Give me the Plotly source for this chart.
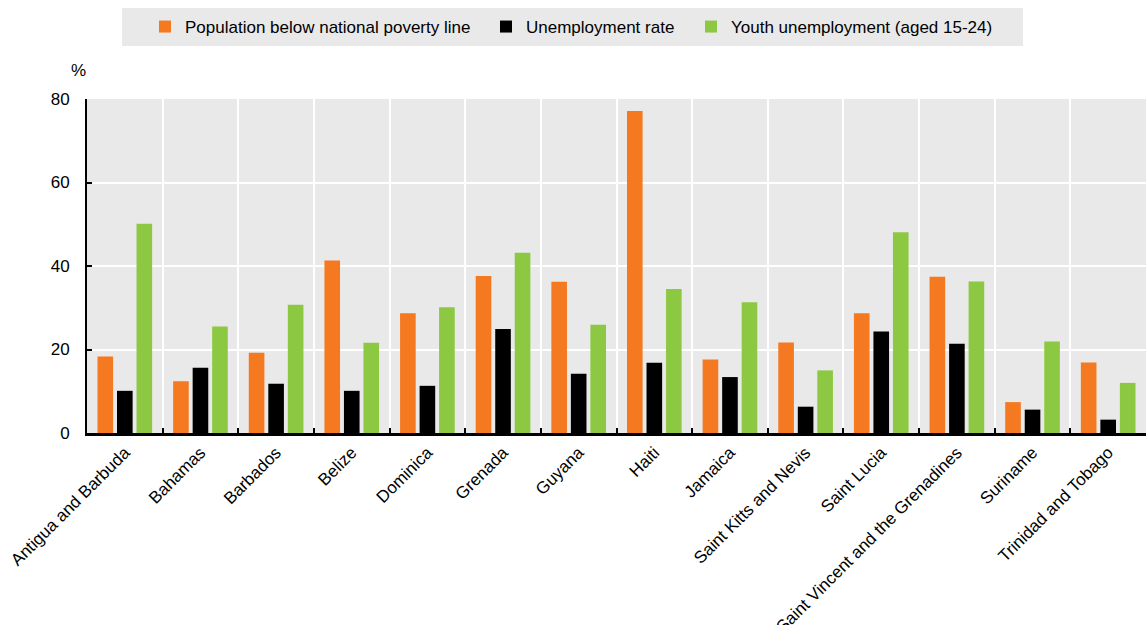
import plotly.graph_objects as go

countries = ["Antigua and Barbuda", "Bahamas", "Barbados", "Belize", "Dominica", "Grenada",
             "Guyana", "Haiti", "Jamaica", "Saint Kitts and Nevis", "Saint Lucia",
             "Saint Vincent and the Grenadines", "Suriname", "Trinidad and Tobago"]
poverty = [18.3, 12.4, 19.2, 41.3, 28.7, 37.6, 36.2, 77.1, 17.6, 21.7, 28.7, 37.4, 7.4, 16.9]
unemployment = [10.1, 15.6, 11.8, 10.1, 11.3, 24.9, 14.2, 16.8, 13.4, 6.3, 24.3, 21.4, 5.6, 3.2]
youth = [50.1, 25.5, 30.7, 21.6, 30.1, 43.2, 25.9, 34.5, 31.3, 15.0, 48.1, 36.3, 21.9, 12.0]

names = ["Population below national poverty line", "Unemployment rate", "Youth unemployment (aged 15-24)"]
colors = ["#f47920", "#000000", "#8cc841"]
series = [poverty, unemployment, youth]
legends = ["legend", "legend2", "legend3"]

FONT = "Liberation Sans, Arial, sans-serif"

fig = go.Figure()
for name, col, vals, lg in zip(names, colors, series, legends):
    fig.add_trace(go.Bar(x=countries, y=vals, name=name, marker=dict(color=col, line=dict(width=0)),
                         legend=lg, showlegend=True))

W, H = 1146, 625
L, R, T, B = 87, 0, 99, 192
pw, ph = W - L - R, H - T - B

def px(x):
    return (x - L) / pw

def py(y):
    return (H - B - y) / ph

legend_common = dict(orientation="h", yanchor="middle", y=py(27), xanchor="left",
                     bgcolor="rgba(0,0,0,0)", font=dict(family=FONT, size=17, color="#000"),
                     itemwidth=30, visible=True)

fig.update_layout(
    width=W, height=H,
    margin=dict(l=L, r=R, t=T, b=B, autoexpand=False),
    paper_bgcolor="white",
    plot_bgcolor="#e9e9e9",
    showlegend=True,
    barmode="group",
    bargap=0.226,
    bargroupgap=0.2,
    font=dict(family=FONT, size=17, color="#000"),
    legend=dict(legend_common, x=px(145)),
    legend2=dict(legend_common, x=px(486)),
    legend3=dict(legend_common, x=px(691)),
    shapes=[dict(type="rect", xref="paper", yref="paper", x0=px(122), x1=px(1023),
                 y0=py(46), y1=py(8), fillcolor="#e9e9e9", line=dict(width=0), layer="below")],
    annotations=[dict(text="%", xref="paper", yref="paper", x=px(78), y=py(70),
                      xanchor="center", yanchor="middle",
                      showarrow=False, font=dict(family=FONT, size=17, color="#000"))],
    xaxis=dict(
        tickson="boundaries", showgrid=True, gridcolor="white", gridwidth=2,
        ticks="inside", ticklen=5, tickcolor="black", tickwidth=2,
        showline=True, linecolor="black", linewidth=3,
        tickangle=-45, tickfont=dict(family=FONT, size=17, color="#000"),
        zeroline=False,
    ),
    yaxis=dict(
        range=[0, 80], tickvals=[0, 20, 40, 60, 80], showgrid=True, gridcolor="white", gridwidth=2,
        ticks="inside", ticklen=5, tickcolor="black", tickwidth=2,
        showline=True, linecolor="black", linewidth=2, zeroline=False,
        tickfont=dict(family=FONT, size=17, color="#000"), ticklabelstandoff=12,
    ),
)

fig.write_html("out.html", config={"displayModeBar": False},
               post_script="document.body.style.margin='0';document.body.style.overflow='hidden';")
